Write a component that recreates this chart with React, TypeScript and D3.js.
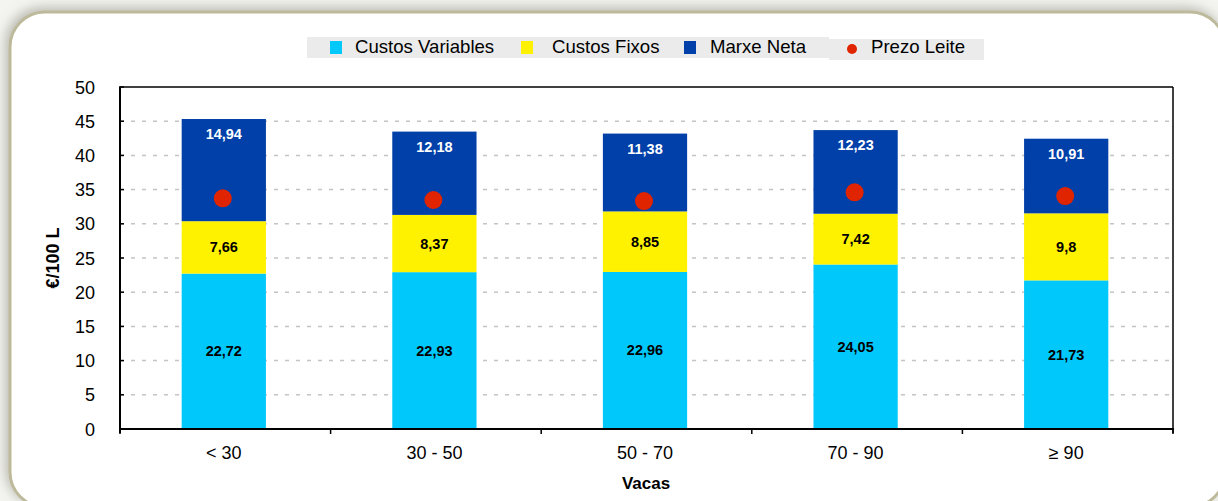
import React from "react";
import * as d3 from "d3";

const categories = ["< 30", "30 - 50", "50 - 70", "70 - 90", "≥ 90"];
const custosVariables = [22.72, 22.93, 22.96, 24.05, 21.73];
const custosFixos = [7.66, 8.37, 8.85, 7.42, 9.8];
const marxeNeta = [14.94, 12.18, 11.38, 12.23, 10.91];
const prezoLeite = [33.73, 33.48, 33.33, 34.6, 34.06];
const yTicks = [0, 5, 10, 15, 20, 25, 30, 35, 40, 45, 50];
const seriesNames = ["Custos Variables", "Custos Fixos", "Marxe Neta", "Prezo Leite"];

const W = 1218;
const H = 501;
const M = { left: 120, right: 1173, top: 87, bottom: 429 };
const COLORS = ["#00c8fa", "#fff200", "#0040a8", "#e02400"];
const FONT = "'Liberation Sans', Arial, Helvetica, sans-serif";

const fmt = (v: number) => String(v).replace(".", ",");

export default function App() {
  const x = d3
    .scaleBand<string>()
    .domain(categories)
    .range([M.left, M.right])
    .paddingInner(0.6)
    .paddingOuter(0.3);
  const y = d3.scaleLinear().domain([0, 50]).range([M.bottom, M.top]);

  const rows = categories.map((c, i) => ({
    cat: c,
    v: custosVariables[i],
    f: custosFixos[i],
    m: marxeNeta[i],
    p: prezoLeite[i],
  }));
  const stack = d3.stack<any>().keys(["v", "f", "m"])(rows);

  const step = x.step();
  const boundaries = d3.range(categories.length + 1).map((i) => M.left + i * step);
  const bx = (c: string) => (x(c) as number) - 1.5;

  const legendItems = [
    { name: seriesNames[0], color: COLORS[0], mx: 330, tx: 355, shape: "rect" },
    { name: seriesNames[1], color: COLORS[1], mx: 521, tx: 552, shape: "rect" },
    { name: seriesNames[2], color: COLORS[2], mx: 684, tx: 710, shape: "rect" },
    { name: seriesNames[3], color: COLORS[3], mx: 847, tx: 871, shape: "circle" },
  ];

  return (
    <svg
      width={W}
      height={H}
      style={{ position: "fixed", left: 0, top: 0, background: "#f3f3ef" }}
      fontFamily={FONT}
    >
      <defs>
        <filter id="sh" x="-5%" y="-10%" width="110%" height="120%">
          <feDropShadow dx="-3" dy="-3" stdDeviation="6" floodColor="#7f7f6f" floodOpacity="0.5" />
        </filter>
      </defs>
      <rect x={0} y={0} width={W} height={H} fill="#f4f4f0" />
      <rect
        x={10}
        y={12}
        width={1215}
        height={495}
        rx={35}
        ry={35}
        fill="#ffffff"
        stroke="#bdb99b"
        strokeWidth={3}
        filter="url(#sh)"
      />

      {/* Legend */}
      <rect x={307} y={37} width={522} height={21} fill="#ebebeb" />
      <rect x={829} y={39} width={155} height={21} fill="#ebebeb" />
      {legendItems.map((d) => (
        <g key={d.name}>
          {d.shape === "rect" ? (
            <rect x={d.mx} y={41} width={12} height={13} fill={d.color} />
          ) : (
            <circle cx={d.mx + 5} cy={49} r={5} fill={d.color} />
          )}
          <text x={d.tx} y={53} fontSize={18.6} fill="#000">
            {d.name}
          </text>
        </g>
      ))}

      {/* Grid */}
      {yTicks
        .filter((t) => t > 0 && t < 50)
        .map((t) => (
          <line
            key={t}
            x1={M.left}
            x2={M.right}
            y1={y(t)}
            y2={y(t)}
            stroke="#c4c4c4"
            strokeWidth={1.5}
            strokeDasharray="4,7"
          />
        ))}

      {/* Bars */}
      {stack.map((layer, li) =>
        layer.map((d, i) => (
          <rect
            key={li + "-" + i}
            x={bx(categories[i])}
            y={y(d[1])}
            width={x.bandwidth()}
            height={y(d[0]) - y(d[1])}
            fill={COLORS[li]}
          />
        ))
      )}

      {/* Bar labels */}
      {stack.map((layer, li) =>
        layer.map((d, i) => {
          const cx = bx(categories[i]) + x.bandwidth() / 2;
          const val = d[1] - d[0];
          const ty = li === 2 ? y(d[1]) + 20 : (y(d[0]) + y(d[1])) / 2 + 5;
          return (
            <text
              key={"l" + li + "-" + i}
              x={cx}
              y={ty}
              textAnchor="middle"
              fontSize={14.5}
              fontWeight="bold"
              fill={li === 2 ? "#ffffff" : "#000000"}
            >
              {fmt(Math.round(val * 100) / 100)}
            </text>
          );
        })
      )}

      {/* Prezo Leite dots */}
      {rows.map((r) => (
        <circle
          key={"p" + r.cat}
          cx={bx(r.cat) + x.bandwidth() / 2 - 1}
          cy={y(r.p)}
          r={9}
          fill={COLORS[3]}
        />
      ))}

      {/* Plot frame */}
      <line x1={M.left} x2={M.right} y1={M.top} y2={M.top} stroke="#000" strokeWidth={1.5} />
      <line x1={M.right} x2={M.right} y1={M.top} y2={M.bottom + 4} stroke="#000" strokeWidth={1.5} />
      <line x1={M.left} x2={M.left} y1={M.top} y2={M.bottom + 4} stroke="#000" strokeWidth={2} />
      <line x1={M.left - 1} x2={M.right + 1} y1={M.bottom} y2={M.bottom} stroke="#000" strokeWidth={2} />

      {/* Y ticks */}
      {yTicks.map((t) => (
        <g key={"yt" + t}>
          <line x1={M.left - 1} x2={M.left + 4} y1={y(t)} y2={y(t)} stroke="#000" strokeWidth={1.5} />
          <text x={95} y={y(t) + 6.5} textAnchor="end" fontSize={18} fill="#000">
            {t}
          </text>
        </g>
      ))}

      {/* X ticks */}
      {boundaries.map((b, i) => (
        <line key={"xt" + i} x1={b} x2={b} y1={M.bottom} y2={M.bottom + 5} stroke="#000" strokeWidth={1.5} />
      ))}
      {categories.map((c) => (
        <text
          key={"xl" + c}
          x={bx(c) + x.bandwidth() / 2}
          y={459}
          textAnchor="middle"
          fontSize={18}
          fill="#000"
        >
          {c}
        </text>
      ))}

      {/* Axis titles */}
      <text x={646} y={489} textAnchor="middle" fontSize={17} fontWeight="bold" fill="#000">
        Vacas
      </text>
      <text
        transform={`translate(59, 258) rotate(-90)`}
        textAnchor="middle"
        fontSize={18}
        fontWeight="bold"
        fill="#000"
      >
        €/100 L
      </text>
    </svg>
  );
}
